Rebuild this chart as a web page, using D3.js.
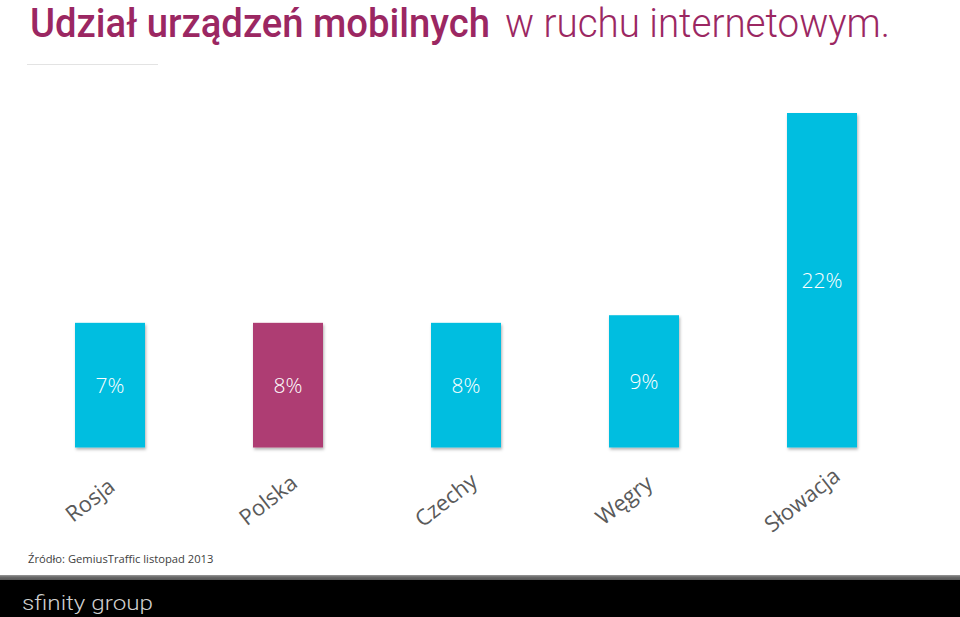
<!DOCTYPE html>
<html><head><meta charset="utf-8">
<script src="https://cdn.jsdelivr.net/npm/d3@7"></script>
<style>html,body{margin:0;padding:0;background:#fff;overflow:hidden}</style>
</head><body>
<script>
const categories = ["Rosja", "Polska", "Czechy", "Węgry", "Słowacja"];
const values = [8.2, 8.2, 8.2, 8.7, 22];
const valueLabels = ["7%", "8%", "8%", "9%", "22%"];
const highlight = "Polska";
const titleBold = "Udział urządzeń mobilnych";
const titleLight = "w ruchu internetowym.";
const sourceText = "Źródło: GemiusTraffic listopad 2013";
const logoText = "sfinity group";

const W = 960, H = 617;
const svg = d3.select("body").append("svg").attr("width", W).attr("height", H);

const defs = svg.append("defs");
const f = defs.append("filter").attr("id","sh").attr("x","-10%").attr("y","-10%").attr("width","130%").attr("height","130%");
f.append("feDropShadow").attr("dx",1).attr("dy",2).attr("stdDeviation",1.5).attr("flood-color","#000").attr("flood-opacity",0.3);
const g1 = defs.append("linearGradient").attr("id","strip").attr("x1",0).attr("x2",0).attr("y1",0).attr("y2",1);
g1.append("stop").attr("offset","0%").attr("stop-color","#9a9a9a");
g1.append("stop").attr("offset","40%").attr("stop-color","#6a6a6a");
g1.append("stop").attr("offset","100%").attr("stop-color","#555");

// Title
svg.append("text").attr("x", 30).attr("y", 37).attr("fill", "#9b2762")
  .attr("font-family", "Roboto, 'DejaVu Sans Condensed', sans-serif")
  .attr("font-weight", 500).attr("font-size", 40)
  .attr("textLength", 460).attr("lengthAdjust","spacingAndGlyphs")
  .text(titleBold);
svg.append("text").attr("x", 505).attr("y", 37).attr("fill", "#9b2762")
  .attr("font-family", "Roboto, sans-serif")
  .attr("font-weight", 300).attr("font-size", 40)
  .attr("textLength", 385).attr("lengthAdjust","spacingAndGlyphs")
  .text(titleLight);
svg.append("line").attr("x1",27).attr("x2",158).attr("y1",64.5).attr("y2",64.5)
  .attr("stroke","#e3e3e3").attr("stroke-width",1);

// Scales
const x = d3.scalePoint().domain(categories).range([110, 822]);
const y = d3.scaleLinear().domain([0, 22]).range([447.5, 113]);
const bw = 70;

const bars = svg.append("g");
bars.selectAll("rect").data(categories).join("rect")
  .attr("x", d => x(d) - bw/2)
  .attr("y", (d,i) => y(values[i]))
  .attr("width", bw)
  .attr("height", (d,i) => y(0) - y(values[i]))
  .attr("fill", d => d === highlight ? "#ae3d73" : "#03bee0")
  .attr("filter","url(#sh)");

bars.selectAll("text.val").data(categories).join("text").attr("class","val")
  .attr("x", d => x(d))
  .attr("y", (d,i) => (y(values[i]) + y(0)) / 2)
  .attr("dy", "0.35em")
  .attr("text-anchor","middle")
  .attr("fill","#fff")
  .attr("font-family","'Open Sans', sans-serif")
  .attr("font-weight",300)
  .attr("font-size",21)
  .text((d,i) => valueLabels[i]);

// Category labels
svg.selectAll("text.cat").data(categories).join("text").attr("class","cat")
  .attr("transform", d => `translate(${x(d)-20},${500}) rotate(-38)`)
  .attr("text-anchor","middle")
  .attr("dy","0.35em")
  .attr("fill","#5a5a5a")
  .attr("font-family","'Open Sans', sans-serif")
  .attr("font-size",22)
  .text(d => d);

// Source
svg.append("text").attr("x",28).attr("y",563)
  .attr("fill","#404040").attr("font-family","'Open Sans', sans-serif").attr("font-size",11.2)
  .text(sourceText);

// Footer
svg.append("rect").attr("x",0).attr("y",575).attr("width",W).attr("height",5).attr("fill","url(#strip)");
svg.append("rect").attr("x",0).attr("y",580).attr("width",W).attr("height",37).attr("fill","#000");
svg.append("text").attr("x",22).attr("y",610)
  .attr("fill","#d0d0d0").attr("font-family","Roboto, sans-serif").attr("font-weight",300)
  .attr("font-size",21).attr("textLength",131).attr("lengthAdjust","spacingAndGlyphs")
  .text(logoText);
</script>
</body></html>
